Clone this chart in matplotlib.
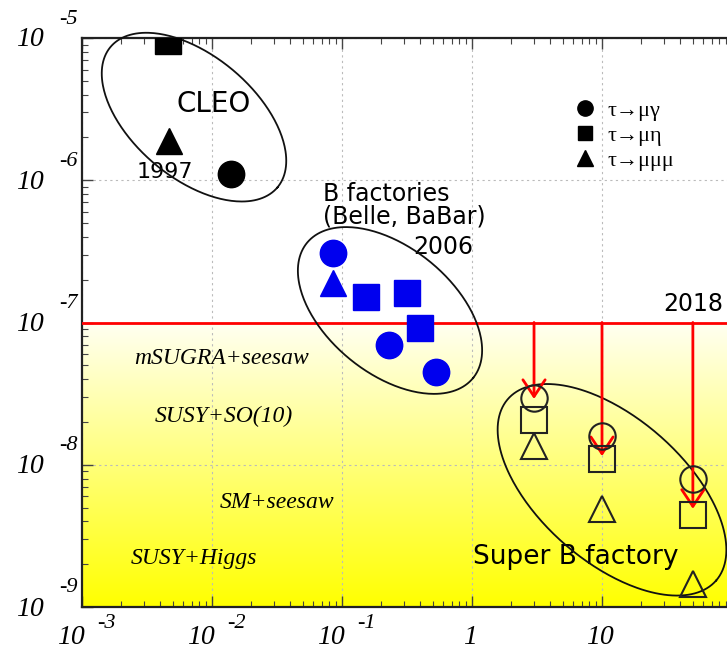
'''
LFV tau decay upper limits versus integrated luminosity: CLEO, B factories and Super B factory.
'''

import numpy as np
import matplotlib.pyplot as plt
from matplotlib.lines import Line2D

# CLEO (1997) limits
cleo_lumi = {'mg': [0.014], 'meta': [0.0046], 'mmm': [0.0047]}
cleo_br = {'mg': [1.1e-6], 'meta': [9.6e-6], 'mmm': [1.9e-6]}

# B factories (Belle, BaBar, 2006)
bf_mg_lumi = [0.085, 0.23, 0.53]
bf_mg_br = [3.1e-7, 6.9e-8, 4.5e-8]
bf_meta_lumi = [0.153, 0.316, 0.40]
bf_meta_br = [1.5e-7, 1.6e-7, 9.2e-8]
bf_mmm_lumi = [0.085]
bf_mmm_br = [1.9e-7]

# Super B factory projections
sb_lumi = [3, 10, 50]
sb_mg_br = [2.96e-8, 1.6e-8, 8.0e-9]
sb_meta_br = [2.07e-8, 1.1e-8, 4.45e-9]
sb_mmm_br = [1.36e-8, 4.9e-9, 1.45e-9]

# 2018 reach (red line and arrows)
reach_level = 1e-7
arrow_x = [3, 10, 50]
arrow_tip = [2.9e-8, 1.15e-8, 4.9e-9]

# model predictions written in the yellow band
model_names = ['mSUGRA+seesaw', 'SUSY+SO(10)', 'SM+seesaw', 'SUSY+Higgs']
model_x = [0.0119, 0.0124, 0.0316, 0.0073]
model_y = [5.6e-8, 2.2e-8, 5.4e-9, 2.2e-9]

x_exponents = [-3, -2, -1]
x_plain = [(1, '1'), (10, '10')]
y_exponents = [-5, -6, -7, -8, -9]

serif_it = dict(family=['Liberation Serif', 'DejaVu Serif'], style='italic')

fig = plt.figure(figsize=(7.27, 6.5), dpi=100)
ax = fig.add_axes([82 / 727, 43 / 650, 645 / 727, 569 / 650])
ax.set_xscale('log')
ax.set_yscale('log')
ax.set_xlim(1e-3, 10 ** (1 + 125 / 130))
ax.set_ylim(1e-9, 1e-5)

# yellow gradient below the 1e-7 line
grad = np.linspace(0, 1, 256).reshape(-1, 1)
rgb = np.ones((256, 1, 3))
rgb[:, 0, 2] = 0.95 * grad[:, 0]
ax.imshow(rgb, extent=(0, 1, 0, 0.5), transform=ax.transAxes, origin='lower',
          aspect='auto', zorder=0, interpolation='bilinear')

ax.grid(True, which='major', color='#bbbbbb', linestyle=(0, (2, 3)), linewidth=0.8)
ax.set_axisbelow(True)

for side in ['left', 'bottom', 'top']:
    ax.spines[side].set_linewidth(1.6)
    ax.spines[side].set_color('#222222')
ax.spines['right'].set_visible(False)
ax.tick_params(which='both', direction='in', top=True, right=False,
               labelbottom=False, labelleft=False, color='#444444')
ax.tick_params(which='major', length=8, width=1)
ax.tick_params(which='minor', length=4, width=0.8)

# tick labels written by hand to copy the wide "10  -n" look
for e in y_exponents:
    ax.annotate('10', xy=(0, 10.0 ** e), xycoords=ax.get_yaxis_transform(),
                xytext=(-38, -2), textcoords='offset pixels', ha='right', va='center',
                fontsize=20, **serif_it, annotation_clip=False)
    ax.annotate(str(e), xy=(0, 10.0 ** e), xycoords=ax.get_yaxis_transform(),
                xytext=(-23, 19), textcoords='offset pixels', ha='left', va='center',
                fontsize=16, **serif_it, annotation_clip=False)
for e in x_exponents:
    ax.annotate('10', xy=(10.0 ** e, 0), xycoords=ax.get_xaxis_transform(),
                xytext=(3, -31), textcoords='offset pixels', ha='right', va='center',
                fontsize=20, **serif_it, annotation_clip=False)
    ax.annotate(str(e), xy=(10.0 ** e, 0), xycoords=ax.get_xaxis_transform(),
                xytext=(15, -17), textcoords='offset pixels', ha='left', va='center',
                fontsize=16, **serif_it, annotation_clip=False)
for val, lab in x_plain:
    ax.annotate(lab, xy=(val, 0), xycoords=ax.get_xaxis_transform(),
                xytext=(-2, -31), textcoords='offset pixels', ha='center', va='center',
                fontsize=20, **serif_it, annotation_clip=False)

# 2018 line and arrows
ax.axhline(reach_level, color='red', linewidth=2, zorder=3)
for xv, tip in zip(arrow_x, arrow_tip):
    ax.annotate('', xy=(xv, tip), xytext=(xv, reach_level),
                arrowprops=dict(arrowstyle='->, head_length=0.6, head_width=0.4',
                                color='red', lw=2, shrinkA=0, shrinkB=0,
                                mutation_scale=20), zorder=5)

# ellipses, given in pixel units around a data-space centre
def draw_ellipse(cx, cy, a, b, angle_deg):
    t = np.linspace(0, 2 * np.pi, 300)
    phi = np.deg2rad(angle_deg)
    dx = a * np.cos(t) * np.cos(phi) - b * np.sin(t) * np.sin(phi)
    dy = a * np.cos(t) * np.sin(phi) + b * np.sin(t) * np.cos(phi)
    xs = cx * 10 ** (dx / 130)
    ys = cy * 10 ** (-dy / 142)
    ax.plot(xs, ys, color='#111111', linewidth=1.3, zorder=4, clip_on=False)

draw_ellipse(10 ** (-3 + (194 - 82) / 130), 10 ** (-5 - (117 - 38) / 142), 109, 61, 40)
draw_ellipse(10 ** (-3 + (390 - 82) / 130), 10 ** (-5 - (310 - 38) / 142), 107, 63, 39)
draw_ellipse(10 ** (-3 + (612 - 82) / 130), 10 ** (-5 - (489 - 38) / 142), 138, 72, 41)

ms = 19
ax.plot(cleo_lumi['mg'], cleo_br['mg'], 'o', color='black', ms=ms, zorder=6)
ax.plot(cleo_lumi['meta'], cleo_br['meta'], 's', color='black', ms=ms, zorder=6)
ax.plot(cleo_lumi['mmm'], cleo_br['mmm'], '^', color='black', ms=ms, zorder=6)

ax.plot(bf_mg_lumi, bf_mg_br, 'o', color='#0000ee', ms=ms, ls='none', zorder=6)
ax.plot(bf_meta_lumi, bf_meta_br, 's', color='#0000ee', ms=ms, ls='none', zorder=6)
ax.plot(bf_mmm_lumi, bf_mmm_br, '^', color='#0000ee', ms=ms, ls='none', zorder=6)

ax.plot(sb_lumi, sb_mg_br, 'o', mfc='none', mec='#222222', mew=1.5, ms=ms, ls='none', zorder=6)
ax.plot(sb_lumi, sb_meta_br, 's', mfc='none', mec='#222222', mew=1.5, ms=ms, ls='none', zorder=6)
ax.plot(sb_lumi, sb_mmm_br, '^', mfc='none', mec='#222222', mew=1.5, ms=ms, ls='none', zorder=6)

# annotations
sans = dict(family='DejaVu Sans', color='black')
ax.text(0.0103, 3.46e-6, 'CLEO', ha='center', va='center', fontsize=20, **sans)
ax.text(0.00431, 1.14e-6, '1997', ha='center', va='center', fontsize=16, **sans)
ax.text(0.0714, 7.1e-7, 'B factories', ha='left', va='baseline', fontsize=17, **sans)
ax.text(0.0714, 4.98e-7, '(Belle, BaBar)', ha='left', va='baseline', fontsize=17, **sans)
ax.text(0.598, 3.4e-7, '2006', ha='center', va='center', fontsize=17, **sans)
ax.text(50.1, 1.35e-7, '2018', ha='center', va='center', fontsize=17, **sans, zorder=7)
ax.text(6.25, 2.25e-9, 'Super B factory', ha='center', va='center', fontsize=19, **sans)

for name, xv, yv in zip(model_names, model_x, model_y):
    ax.text(xv, yv, name, ha='center', va='center', fontsize=17, **serif_it)

handles = [Line2D([], [], marker='o', color='black', ls='none', ms=11),
           Line2D([], [], marker='s', color='black', ls='none', ms=10),
           Line2D([], [], marker='^', color='black', ls='none', ms=11)]
labels = ['τ→μγ', 'τ→μη', 'τ→μμμ']
ax.legend(handles, labels, loc='upper left', bbox_to_anchor=(0.742, 0.91), frameon=False,
          prop=dict(family=['Liberation Serif', 'DejaVu Serif'], size=16),
          handlelength=1.2, handletextpad=0.4, labelspacing=0.2, borderpad=0)

plt.savefig('out.png', dpi=100)
